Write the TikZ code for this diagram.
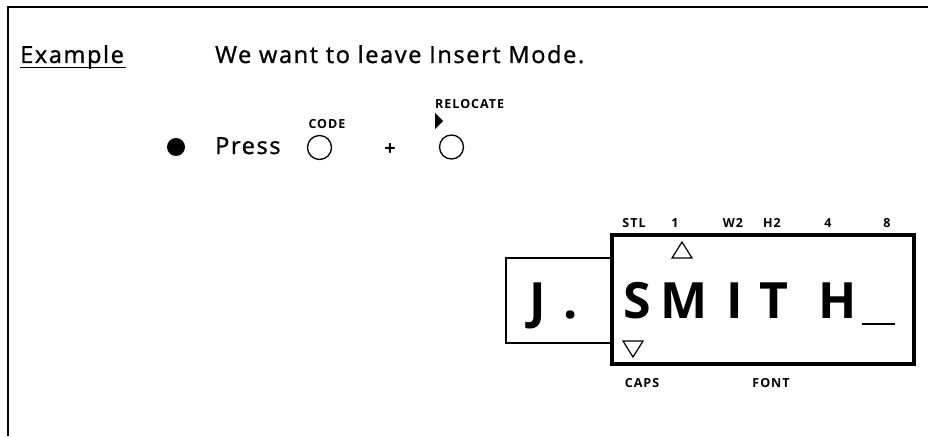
\documentclass[tikz,border=0pt]{standalone}
\usepackage{fontspec}
\setmainfont{Open Sans}
\newfontfamily\bigfam[LetterSpace=7,FakeBold=1.2]{Open Sans}
\newfontfamily\smallfam[LetterSpace=8]{Open Sans}
\begin{document}
\begin{tikzpicture}[x=1pt,y=-1pt,
  frameline/.style={line width=2.4pt},
  big/.style={font=\bigfam\fontsize{23.5}{26}\selectfont, inner sep=0pt},
  tiny/.style={font=\smallfam\fontsize{12.5}{14}\selectfont\bfseries, inner sep=0pt},
  lcd/.style={font=\fontsize{50}{56}\selectfont\bfseries, inner sep=0pt},
  key/.style={circle, draw, line width=1.3pt, minimum size=24pt, inner sep=0pt},
  tri/.style={line width=1.2pt, line join=miter}
]
\useasboundingbox (0,0) rectangle (928,436);
% frame
\draw[frameline] (8,436) -- (8,7) -- (928,7);
% heading
\node[big, anchor=base west] (ex) at (20,63) {Example};
\coordinate (ul1) at (20,67.5);
\coordinate (ul2) at (126,67.5);
\draw[line width=1.6pt] (ul1) -- (ul2);
\node[big, anchor=base west] (title) at (215,63) {We want to leave Insert Mode.};
% press line
\node[circle, fill, minimum size=18pt, inner sep=0pt] (bul) at (176,147) {};
\node[big, anchor=base west] (press) at (215,154) {Press};
\node[key] (k1) at (319.5,147.5) {};
\node[tiny, anchor=base] (code) at (327,128) {CODE};
\node[font=\fontsize{20}{22}\selectfont\bfseries, inner sep=0pt, anchor=center] (plus) at (390,150) {+};
\node[key] (k2) at (451.5,147) {};
\node[tiny, anchor=base west] (reloc) at (435,108) {RELOCATE};
\fill (435,113) -- (443,121) -- (435,129) -- cycle;
% display
\draw[line width=2pt] (611,258) -- (505.5,258) -- (505.5,343) -- (611,343);
\draw[line width=4pt] (612,235) rectangle (914,364);
\node[inner sep=0pt] (lcdbox) at (763,299.5) {};
% top labels
\node[tiny, anchor=base] (stl) at (634,227) {STL};
\node[tiny, anchor=base] (l1) at (675,227) {1};
\node[tiny, anchor=base] (w2) at (733,227) {W2};
\node[tiny, anchor=base] (h2) at (772,227) {H2};
\node[tiny, anchor=base] (l4) at (828,227) {4};
\node[tiny, anchor=base] (l8) at (887,227) {8};
\draw[tri] (672,258) -- (692,258) -- (682,242) -- cycle;
\draw[tri] (623,341) -- (643,341) -- (633,357) -- cycle;
% characters
\node[lcd, anchor=base] (cJ) at (538,318) {J};
\node[lcd, anchor=base] (cdot) at (571,318) {.};
\node[lcd, anchor=base] (cS) at (637,318) {S};
\node[lcd, anchor=base] (cM) at (684,318) {M};
\node[lcd, anchor=base] (cI) at (735,318) {I};
\node[lcd, anchor=base] (cT) at (774,318) {T};
\node[lcd, anchor=base] (cH) at (838,318) {H};
\coordinate (us1) at (862,324);
\coordinate (us2) at (895,324);
\draw[line width=2.4pt] (us1) -- (us2);
% bottom labels
\node[tiny, anchor=base] (caps) at (642,387) {CAPS};
\node[tiny, anchor=base] (font) at (771,387) {FONT};
\end{tikzpicture}
\end{document}
